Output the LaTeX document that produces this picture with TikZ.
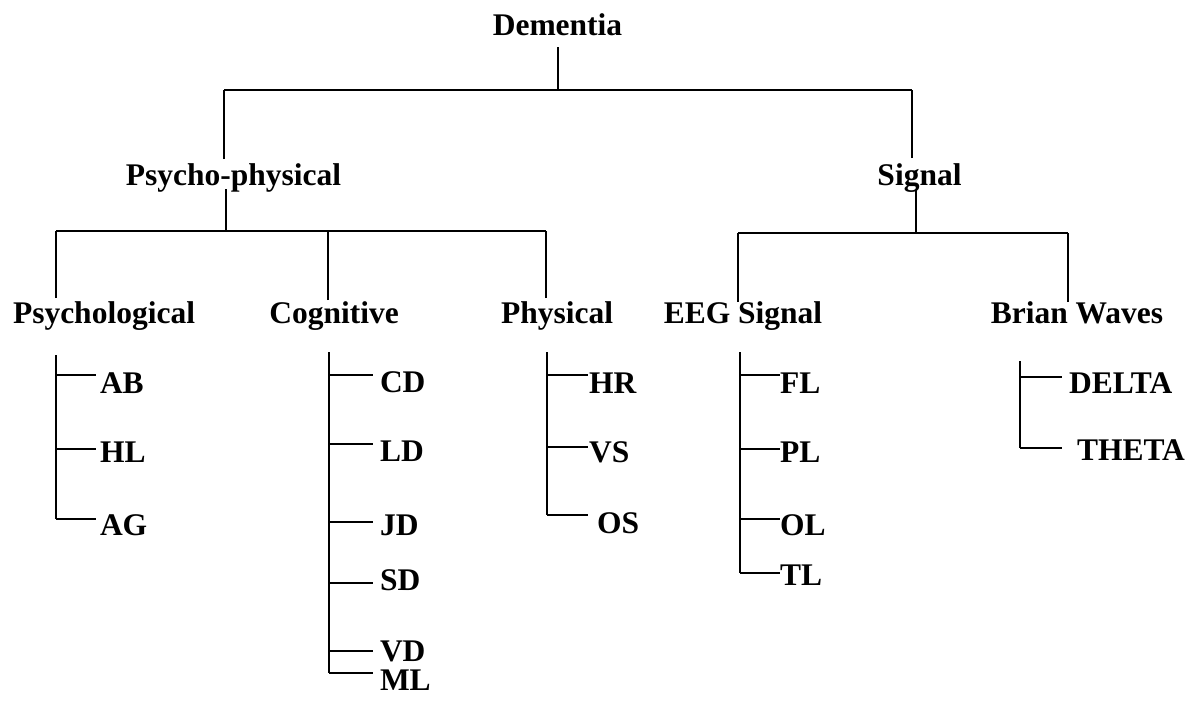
\documentclass[tikz,border=0pt]{standalone}
\usepackage{fontspec}
\setmainfont{Liberation Serif}
\usetikzlibrary{positioning}

\tikzset{
    txt/.style={font=\fontsize{31.5}{36}\selectfont\bfseries, inner sep=0pt},
    head/.style={txt, anchor=base},
    leaf/.style={txt, anchor=base west, outer xsep=#1},
    leaf/.default=4pt,
    bar/.style={line width=2.6pt},
}

\begin{document}
\begin{tikzpicture}[x=1pt, y=-1pt, line width=1.8pt]
        \useasboundingbox (0,0) rectangle (1194,704);

        % headings
        \node[head] (dem) at (557.5, 35) {Dementia};
        \node[head] (psy) at (233.5, 185) {Psycho-physical};
        \node[head] (sig) at (919.5, 185) {Signal};
        \node[head] (psyc) at (104, 323) {Psychological};
        \node[head] (cog) at (334, 323) {Cognitive};
        \node[head] (phys) at (557, 323) {Physical};
        \node[head] (eeg) at (743, 323) {EEG Signal};
        \node[head] (brw) at (1077, 323) {Brian Waves};

        % first level
        \coordinate (demft) at (558, 47);
        \coordinate (j0) at (558, 90);
        \coordinate (psytop) at (224, 159);
        \coordinate (sigtop) at (912, 158);
        \draw (demft) -- (j0);
        \draw[bar] (psytop |- j0) -- (sigtop |- j0);
        \draw (psytop) -- (psytop |- j0)
            (sigtop) -- (sigtop |- j0);

        % second level, left
        \coordinate (psyft) at (226, 189);
        \coordinate (j1) at (226, 231);
        \coordinate (psyctop) at (56, 298);
        \coordinate (cogtop) at (328, 300);
        \coordinate (phystop) at (546, 298);
        \draw (psyft) -- (j1);
        \draw[bar] (psyctop |- j1) -- (phystop |- j1);
        \foreach \c in {psyctop, cogtop, phystop} {
            \draw (\c) -- (\c |- j1);
        }

        % second level, right
        \coordinate (sigft) at (916, 190);
        \coordinate (j2) at (916, 233);
        \coordinate (eegtop) at (738, 302);
        \coordinate (brwtop) at (1068, 302);
        \draw (sigft) -- (j2);
        \draw[bar] (eegtop |- j2) -- (brwtop |- j2);
        \foreach \c in {eegtop, brwtop} {
            \draw (\c) -- (\c |- j2);
        }

        % trunks
        \coordinate (psyctr) at (56, 355);
        \coordinate (cogtr) at (329, 352);
        \coordinate (phystr) at (547, 352);
        \coordinate (eegtr) at (740, 352);
        \coordinate (brwtr) at (1020, 361);
        \draw (psyctr) -- (psyctr |- 0,519)
            (cogtr) -- (cogtr |- 0,673)
            (phystr) -- (phystr |- 0,515)
            (eegtr) -- (eegtr |- 0,573)
            (brwtr) -- (brwtr |- 0,448);

        % leaves
        \foreach \lbl/\yl/\yb/\gap in {AB/375/393/4, HL/449/462/4, AG/519/535/4} {
            \node[leaf=\gap pt] (\lbl) at (96, \yb) {\lbl};
            \draw (psyctr |- 0,\yl) -- (\lbl.west |- 0,\yl);
        }

        \foreach \lbl/\yl/\yb/\gap in {CD/375/392/7, LD/444/461/7, JD/522/535/7,
                SD/583/590/7, VD/651/661/7, ML/673/690/7} {
            \node[leaf=\gap pt] (\lbl) at (373, \yb) {\lbl};
            \draw (cogtr |- 0,\yl) -- (\lbl.west |- 0,\yl);
        }

        \foreach \lbl/\yl/\yb/\gap in {HR/375/393/1, VS/447/462/1, OS/515/533/9} {
            \node[leaf=\gap pt] (\lbl) at (588, \yb) {\lbl};
            \draw (phystr |- 0,\yl) -- (\lbl.west |- 0,\yl);
        }

        \foreach \lbl/\yl/\yb/\gap in {FL/375/393/0, PL/449/462/0, OL/519/535/0, TL/573/585/0} {
            \node[leaf=\gap pt] (\lbl) at (780, \yb) {\lbl};
            \draw (eegtr |- 0,\yl) -- (\lbl.west |- 0,\yl);
        }

        \foreach \lbl/\yl/\yb/\gap in {DELTA/377/393/7, THETA/448/460/15} {
            \node[leaf=\gap pt] (\lbl) at (1062, \yb) {\lbl};
            \draw (brwtr |- 0,\yl) -- (\lbl.west |- 0,\yl);
        }
\end{tikzpicture}
\end{document}
